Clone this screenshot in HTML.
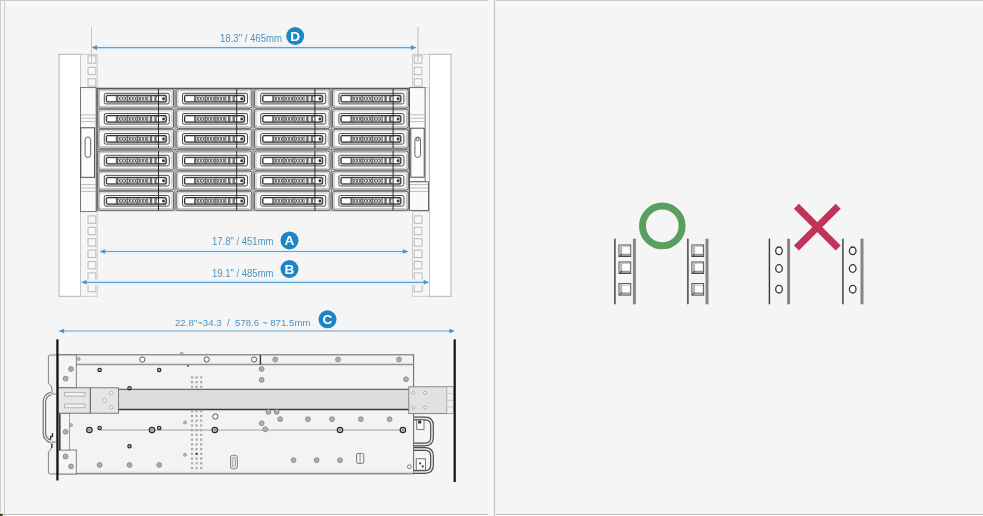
<!DOCTYPE html>
<html><head><meta charset="utf-8"><title>Rack dimensions</title>
<style>
html,body{margin:0;padding:0;background:#f5f5f5;}
body{width:983px;height:516px;overflow:hidden;font-family:"Liberation Sans",sans-serif;}
svg{display:block;font-family:"Liberation Sans",sans-serif;filter:blur(0.45px);}
</style></head><body>
<svg width="983" height="516" viewBox="0 0 983 516">
<defs>
<g id="tray">
<rect x="0" y="0" width="75.6" height="19" rx="2.2" fill="#fbfbfb" stroke="#505050" stroke-width="0.95"/>
<rect x="1.6" y="1.6" width="72.4" height="15.8" rx="1.6" fill="none" stroke="#9a9a9a" stroke-width="0.6"/>
<rect x="6.3" y="4.3" width="65" height="10.6" rx="1.6" fill="#f3f3f3" stroke="#3c3c3c" stroke-width="0.9"/>
<rect x="8.3" y="6.3" width="60" height="6.7" rx="1" fill="#6e6e6e" stroke="#2e2e2e" stroke-width="1"/>
<rect x="9.2" y="7.2" width="8.6" height="4.9" fill="#ffffff"/>
<rect x="20.0" y="7.2" width="8.8" height="4.9" fill="#efefef"/>
<path d="M20.60 7.6 l2 4.1 m0 -4.1 l-2 4.1" stroke="#3c3c3c" stroke-width="0.8" fill="none"/>
<path d="M23.50 7.6 l2 4.1 m0 -4.1 l-2 4.1" stroke="#3c3c3c" stroke-width="0.8" fill="none"/>
<path d="M26.40 7.6 l2 4.1 m0 -4.1 l-2 4.1" stroke="#3c3c3c" stroke-width="0.8" fill="none"/>
<rect x="30.2" y="7.2" width="8.8" height="4.9" fill="#efefef"/>
<path d="M30.80 7.6 l2 4.1 m0 -4.1 l-2 4.1" stroke="#3c3c3c" stroke-width="0.8" fill="none"/>
<path d="M33.70 7.6 l2 4.1 m0 -4.1 l-2 4.1" stroke="#3c3c3c" stroke-width="0.8" fill="none"/>
<path d="M36.60 7.6 l2 4.1 m0 -4.1 l-2 4.1" stroke="#3c3c3c" stroke-width="0.8" fill="none"/>
<rect x="40.4" y="7.2" width="8.8" height="4.9" fill="#efefef"/>
<path d="M41.00 7.6 l2 4.1 m0 -4.1 l-2 4.1" stroke="#3c3c3c" stroke-width="0.8" fill="none"/>
<path d="M43.90 7.6 l2 4.1 m0 -4.1 l-2 4.1" stroke="#3c3c3c" stroke-width="0.8" fill="none"/>
<path d="M46.80 7.6 l2 4.1 m0 -4.1 l-2 4.1" stroke="#3c3c3c" stroke-width="0.8" fill="none"/>
<rect x="50.2" y="7.2" width="1.6" height="4.9" fill="#f0f0f0"/>
<rect x="54.2" y="7.2" width="2.2" height="4.9" fill="#f0f0f0"/>
<rect x="58.6" y="7.2" width="8.8" height="4.9" rx="1.6" fill="#ffffff"/>
<rect x="64.2" y="8.2" width="2.6" height="3" rx="1" fill="#3a3a3a"/>
<circle cx="0.8" cy="1.4" r="0.9" fill="#fff" stroke="#555" stroke-width="0.5"/>
<circle cx="0.8" cy="17.6" r="0.9" fill="#fff" stroke="#555" stroke-width="0.5"/>
<circle cx="73.4" cy="7.6" r="0.45" fill="#999"/>
<circle cx="73.4" cy="9.6" r="0.45" fill="#999"/>
<circle cx="73.4" cy="11.6" r="0.45" fill="#999"/>
</g>
<g id="hole"><rect x="0" y="0" width="7.8" height="7.4" fill="#f7f7f7" stroke="#b9b9b9" stroke-width="1"/></g>
<g id="scr"><circle r="2.4" fill="#b9b9b9" stroke="#808080" stroke-width="0.9"/><circle r="0.9" fill="#a2a2a2"/></g>
<g id="scrs"><circle r="1.6" fill="#b4b4b4" stroke="#8a8a8a" stroke-width="0.6"/></g>
<g id="ringd"><circle r="1.7" fill="#bbb" stroke="#222" stroke-width="1.1"/></g>
<g id="ring2"><circle r="2.7" fill="#d0d0d0" stroke="#2a2a2a" stroke-width="1.2"/><circle r="0.9" fill="#777"/></g>
<g id="ringw"><circle r="2.6" fill="#fff" stroke="#555" stroke-width="1"/></g>
<g id="sqh"><rect x="0" y="0" width="11.7" height="11.5" fill="#fdfdfd" stroke="#4a4a4a" stroke-width="1"/><rect x="0.5" y="0.5" width="2.4" height="10.5" fill="#b8b8b8"/><rect x="0.5" y="9.0" width="10.7" height="2" fill="#9a9a9a"/><path d="M0.3 11.3 L3 9" stroke="#333" stroke-width="1"/><rect x="2.9" y="1.6" width="8.2" height="7.4" fill="#fefefe" stroke="#999" stroke-width="0.5"/></g>
<g id="rdh"><ellipse rx="3.3" ry="3.8" fill="#fdfdfd" stroke="#333" stroke-width="1.3"/></g>
</defs>
<rect x="0.00" y="0.00" width="983.00" height="516.00" rx="0" fill="#f5f5f5" stroke="none" stroke-width="1" />
<rect x="0.00" y="0.00" width="983.00" height="5.50" rx="0" fill="#fafafa" stroke="none" stroke-width="1" />
<rect x="0.00" y="0.00" width="6.00" height="516.00" rx="0" fill="#f9f9f9" stroke="none" stroke-width="1" />
<rect x="0.00" y="512.50" width="983.00" height="3.50" rx="0" fill="#fbfbfb" stroke="none" stroke-width="1" />
<line x1="0.00" y1="0.50" x2="983.00" y2="0.50" stroke="#c9c9c9" stroke-width="1.2" />
<line x1="0.50" y1="0.00" x2="0.50" y2="516.00" stroke="#cfcfcf" stroke-width="1.4" />
<line x1="4.50" y1="0.00" x2="4.50" y2="516.00" stroke="#cdcdcd" stroke-width="1.2" />
<line x1="0.00" y1="514.30" x2="983.00" y2="514.30" stroke="#c4c4c4" stroke-width="1.3" />
<rect x="0.00" y="513.60" width="2.60" height="2.40" rx="0" fill="#3a3a2a" stroke="none" stroke-width="1" />
<rect x="0.00" y="511.50" width="3.00" height="2.00" rx="0" fill="#f1f3d8" stroke="none" stroke-width="1" />
<rect x="488.50" y="0.00" width="7.50" height="516.00" rx="0" fill="#f7f7f7" stroke="none" stroke-width="1" />
<line x1="494.50" y1="0.00" x2="494.50" y2="516.00" stroke="#c6c6c6" stroke-width="1.3" />
<rect x="59.00" y="54.30" width="21.50" height="242.00" rx="0" fill="#ffffff" stroke="#b3b3b3" stroke-width="1" />
<rect x="429.50" y="54.30" width="21.50" height="242.00" rx="0" fill="#ffffff" stroke="#b3b3b3" stroke-width="1" />
<rect x="80.50" y="54.30" width="16.70" height="33.50" rx="0" fill="#f6f6f6" stroke="#c4c4c4" stroke-width="0.8" />
<rect x="80.50" y="211.60" width="16.70" height="84.70" rx="0" fill="#f6f6f6" stroke="#c4c4c4" stroke-width="0.8" />
<rect x="412.60" y="54.30" width="16.90" height="33.50" rx="0" fill="#f6f6f6" stroke="#c4c4c4" stroke-width="0.8" />
<rect x="412.60" y="211.60" width="16.90" height="84.70" rx="0" fill="#f6f6f6" stroke="#c4c4c4" stroke-width="0.8" />
<use href="#hole" x="88" y="55.8"/>
<use href="#hole" x="414.2" y="55.8"/>
<use href="#hole" x="88" y="67.3"/>
<use href="#hole" x="414.2" y="67.3"/>
<use href="#hole" x="88" y="78.8"/>
<use href="#hole" x="414.2" y="78.8"/>
<use href="#hole" x="88" y="215.90"/>
<use href="#hole" x="414.2" y="215.90"/>
<use href="#hole" x="88" y="227.30"/>
<use href="#hole" x="414.2" y="227.30"/>
<use href="#hole" x="88" y="238.70"/>
<use href="#hole" x="414.2" y="238.70"/>
<use href="#hole" x="88" y="250.10"/>
<use href="#hole" x="414.2" y="250.10"/>
<use href="#hole" x="88" y="261.50"/>
<use href="#hole" x="414.2" y="261.50"/>
<use href="#hole" x="88" y="272.90"/>
<use href="#hole" x="414.2" y="272.90"/>
<use href="#hole" x="88" y="284.30"/>
<use href="#hole" x="414.2" y="284.30"/>
<rect x="80.50" y="87.60" width="15.60" height="124.00" rx="0" fill="#fafafa" stroke="#6a6a6a" stroke-width="0.9" />
<rect x="80.80" y="127.80" width="13.80" height="49.50" rx="0" fill="#fcfcfc" stroke="#3f3f3f" stroke-width="0.9" />
<rect x="85.10" y="137.00" width="5.60" height="20.50" rx="2.8" fill="#ffffff" stroke="#555" stroke-width="0.9" />
<line x1="81.00" y1="114.80" x2="95.60" y2="114.80" stroke="#a8a8a8" stroke-width="0.7" />
<line x1="81.00" y1="118.20" x2="95.60" y2="118.20" stroke="#a8a8a8" stroke-width="0.7" />
<line x1="81.00" y1="121.60" x2="95.60" y2="121.60" stroke="#a8a8a8" stroke-width="0.7" />
<line x1="81.00" y1="184.60" x2="95.60" y2="184.60" stroke="#a0a0a0" stroke-width="0.7" />
<line x1="81.00" y1="188.00" x2="95.60" y2="188.00" stroke="#a0a0a0" stroke-width="0.7" />
<line x1="81.00" y1="191.40" x2="95.60" y2="191.40" stroke="#a0a0a0" stroke-width="0.7" />
<rect x="409.50" y="87.60" width="15.60" height="94.20" rx="0" fill="#fafafa" stroke="#6a6a6a" stroke-width="0.9" />
<rect x="409.50" y="181.80" width="19.00" height="28.60" rx="0" fill="#fafafa" stroke="#5a5a5a" stroke-width="0.9" />
<rect x="410.80" y="128.20" width="13.40" height="49.00" rx="0" fill="#fcfcfc" stroke="#3f3f3f" stroke-width="0.9" />
<rect x="414.90" y="137.00" width="5.60" height="20.50" rx="2.8" fill="#ffffff" stroke="#555" stroke-width="0.9" />
<circle cx="417.70" cy="139.40" r="1.5" fill="#fff" stroke="#444" stroke-width="0.8"/>
<line x1="410.00" y1="114.80" x2="424.60" y2="114.80" stroke="#a8a8a8" stroke-width="0.7" />
<line x1="410.00" y1="118.20" x2="424.60" y2="118.20" stroke="#a8a8a8" stroke-width="0.7" />
<line x1="410.00" y1="121.60" x2="424.60" y2="121.60" stroke="#a8a8a8" stroke-width="0.7" />
<line x1="410.00" y1="184.60" x2="428.00" y2="184.60" stroke="#a0a0a0" stroke-width="0.7" />
<line x1="410.00" y1="188.00" x2="428.00" y2="188.00" stroke="#a0a0a0" stroke-width="0.7" />
<line x1="410.00" y1="191.40" x2="428.00" y2="191.40" stroke="#a0a0a0" stroke-width="0.7" />
<rect x="97.00" y="88.30" width="312.30" height="122.20" rx="0" fill="#d2d2d2" stroke="#4a4a4a" stroke-width="1.1" />
<line x1="97.00" y1="210.70" x2="409.30" y2="210.70" stroke="#a9b88f" stroke-width="1.2" />
<use href="#tray" x="98.0" y="89.0"/>
<use href="#tray" x="98.0" y="109.2"/>
<use href="#tray" x="98.0" y="129.2"/>
<use href="#tray" x="98.0" y="151.0"/>
<use href="#tray" x="98.0" y="171.1"/>
<use href="#tray" x="98.0" y="191.2"/>
<line x1="158.50" y1="89.00" x2="158.50" y2="148.30" stroke="#2a2a2a" stroke-width="1.0" />
<line x1="158.50" y1="151.00" x2="158.50" y2="210.20" stroke="#2a2a2a" stroke-width="1.0" />
<use href="#tray" x="176.2" y="89.0"/>
<use href="#tray" x="176.2" y="109.2"/>
<use href="#tray" x="176.2" y="129.2"/>
<use href="#tray" x="176.2" y="151.0"/>
<use href="#tray" x="176.2" y="171.1"/>
<use href="#tray" x="176.2" y="191.2"/>
<line x1="236.70" y1="89.00" x2="236.70" y2="148.30" stroke="#2a2a2a" stroke-width="1.0" />
<line x1="236.70" y1="151.00" x2="236.70" y2="210.20" stroke="#2a2a2a" stroke-width="1.0" />
<use href="#tray" x="254.4" y="89.0"/>
<use href="#tray" x="254.4" y="109.2"/>
<use href="#tray" x="254.4" y="129.2"/>
<use href="#tray" x="254.4" y="151.0"/>
<use href="#tray" x="254.4" y="171.1"/>
<use href="#tray" x="254.4" y="191.2"/>
<line x1="314.90" y1="89.00" x2="314.90" y2="148.30" stroke="#2a2a2a" stroke-width="1.0" />
<line x1="314.90" y1="151.00" x2="314.90" y2="210.20" stroke="#2a2a2a" stroke-width="1.0" />
<use href="#tray" x="332.6" y="89.0"/>
<use href="#tray" x="332.6" y="109.2"/>
<use href="#tray" x="332.6" y="129.2"/>
<use href="#tray" x="332.6" y="151.0"/>
<use href="#tray" x="332.6" y="171.1"/>
<use href="#tray" x="332.6" y="191.2"/>
<line x1="393.10" y1="89.00" x2="393.10" y2="148.30" stroke="#2a2a2a" stroke-width="1.0" />
<line x1="393.10" y1="151.00" x2="393.10" y2="210.20" stroke="#2a2a2a" stroke-width="1.0" />
<line x1="175.00" y1="89.00" x2="175.00" y2="210.00" stroke="#7a7a7a" stroke-width="0.8" />
<line x1="253.20" y1="89.00" x2="253.20" y2="210.00" stroke="#7a7a7a" stroke-width="0.8" />
<line x1="331.40" y1="89.00" x2="331.40" y2="210.00" stroke="#7a7a7a" stroke-width="0.8" />
<line x1="97.50" y1="149.60" x2="409.00" y2="149.60" stroke="#6a6a6a" stroke-width="0.8" />
<rect x="93.00" y="44.60" width="323.00" height="6.00" rx="0" fill="#eaf3fa" stroke="none" stroke-width="1" />
<rect x="101.00" y="248.50" width="306.00" height="6.00" rx="0" fill="#eaf3fa" stroke="none" stroke-width="1" />
<rect x="83.00" y="279.30" width="344.00" height="6.00" rx="0" fill="#eaf3fa" stroke="none" stroke-width="1" />
<line x1="91.50" y1="27.00" x2="91.50" y2="63.00" stroke="#c4c4c4" stroke-width="1" />
<line x1="418.00" y1="27.00" x2="418.00" y2="62.00" stroke="#bdbdbd" stroke-width="1" />
<line x1="94.50" y1="47.60" x2="413.50" y2="47.60" stroke="#62a1cd" stroke-width="1.2" />
<path d="M91.50 47.60 l5.6 -2.3 v4.6 z" fill="#4d94c4"/>
<path d="M416.50 47.60 l-5.6 -2.3 v4.6 z" fill="#4d94c4"/>
<line x1="102.60" y1="251.50" x2="405.50" y2="251.50" stroke="#62a1cd" stroke-width="1.2" />
<path d="M99.60 251.50 l5.6 -2.3 v4.6 z" fill="#4d94c4"/>
<path d="M408.50 251.50 l-5.6 -2.3 v4.6 z" fill="#4d94c4"/>
<line x1="84.00" y1="282.30" x2="426.30" y2="282.30" stroke="#62a1cd" stroke-width="1.2" />
<path d="M81.00 282.30 l5.6 -2.3 v4.6 z" fill="#4d94c4"/>
<path d="M429.30 282.30 l-5.6 -2.3 v4.6 z" fill="#4d94c4"/>
<line x1="61.50" y1="331.00" x2="452.00" y2="331.00" stroke="#62a1cd" stroke-width="1.0" />
<path d="M58.50 331.00 l5.6 -2.3 v4.6 z" fill="#4d94c4"/>
<path d="M455.00 331.00 l-5.6 -2.3 v4.6 z" fill="#4d94c4"/>
<text xml:space="preserve" x="220" y="42.0" font-size="10.4" fill="#4d94c4" textLength="62" lengthAdjust="spacingAndGlyphs">18.3" / 465mm</text>
<text xml:space="preserve" x="212" y="244.5" font-size="10.4" fill="#4d94c4" textLength="61.5" lengthAdjust="spacingAndGlyphs">17.8" / 451mm</text>
<text xml:space="preserve" x="212" y="276.6" font-size="10.4" fill="#4d94c4" textLength="61.5" lengthAdjust="spacingAndGlyphs">19.1" / 485mm</text>
<text xml:space="preserve" x="175" y="326" font-size="9.9" fill="#4d94c4" textLength="135.5" lengthAdjust="spacingAndGlyphs">22.8"~34.3  /  578.6 ~ 871.5mm</text>
<circle cx="295.20" cy="36.00" r="9" fill="#1b86c6" stroke="none" stroke-width="1"/>
<text x="295.2" y="40.9" font-size="13.6" font-weight="bold" fill="#ffffff" text-anchor="middle">D</text>
<circle cx="289.50" cy="240.40" r="9" fill="#1b86c6" stroke="none" stroke-width="1"/>
<text x="289.5" y="245.3" font-size="13.6" font-weight="bold" fill="#ffffff" text-anchor="middle">A</text>
<circle cx="289.50" cy="269.00" r="9" fill="#1b86c6" stroke="none" stroke-width="1"/>
<text x="289.5" y="273.9" font-size="13.6" font-weight="bold" fill="#ffffff" text-anchor="middle">B</text>
<circle cx="327.50" cy="319.30" r="9" fill="#1b86c6" stroke="none" stroke-width="1"/>
<text x="327.5" y="324.2" font-size="13.6" font-weight="bold" fill="#ffffff" text-anchor="middle">C</text>
<rect x="58.00" y="354.80" width="355.60" height="119.00" rx="0" fill="#f3f3f3" stroke="#6f6f6f" stroke-width="1.1" />
<line x1="58.00" y1="364.70" x2="413.60" y2="364.70" stroke="#7a7a7a" stroke-width="1" />
<line x1="58.00" y1="363.30" x2="413.60" y2="363.30" stroke="#c2c2c2" stroke-width="0.6" />
<line x1="260.40" y1="355.00" x2="260.40" y2="364.70" stroke="#333" stroke-width="1.4" />
<line x1="58.00" y1="472.30" x2="413.60" y2="472.30" stroke="#c2c2c2" stroke-width="0.6" />
<path d="M58 355 H50.5 Q48.4 355 48.4 357 V383 Q52 386 52 389 V394 H58 Z" fill="#f1f1f1" stroke="#777" stroke-width="0.9"/>
<path d="M58 474 H50.5 Q48.4 474 48.4 472 V452 Q52 449 52 446 V442 H58 Z" fill="#f1f1f1" stroke="#777" stroke-width="0.9"/>
<rect x="58.00" y="355.00" width="18.30" height="32.60" rx="0" fill="#f5f5f5" stroke="#777" stroke-width="0.9" />
<rect x="58.00" y="450.00" width="18.30" height="24.00" rx="0" fill="#f5f5f5" stroke="#777" stroke-width="0.9" />
<rect x="58.00" y="413.50" width="11.50" height="36.50" rx="0" fill="#f5f5f5" stroke="#888" stroke-width="0.8" />
<line x1="59.80" y1="413.50" x2="59.80" y2="450.00" stroke="#222" stroke-width="1.4" />
<path d="M51 393.5 Q44.4 395.5 44.4 402 V433 Q44.4 439.5 51 441.5" fill="none" stroke="#6a6a6a" stroke-width="3.6"/>
<path d="M51 393.5 Q44.4 395.5 44.4 402 V433 Q44.4 439.5 51 441.5" fill="none" stroke="#ededed" stroke-width="1.4"/>
<path d="M52.5 433 v3.5 h-2 v3 M51.8 444 v4" fill="none" stroke="#333" stroke-width="1.3"/>
<line x1="99.00" y1="430.00" x2="403.00" y2="430.00" stroke="#8d8d8d" stroke-width="0.8" />
<rect x="118.50" y="389.60" width="290.50" height="19.80" rx="0" fill="#dcdcdc" stroke="none" stroke-width="1" />
<line x1="118.50" y1="389.40" x2="409.00" y2="389.40" stroke="#6a6a6a" stroke-width="1.1" />
<line x1="118.50" y1="409.50" x2="409.00" y2="409.50" stroke="#3a3a3a" stroke-width="1.3" />
<rect x="58.00" y="387.80" width="60.50" height="25.40" rx="0" fill="#e6e6e6" stroke="#6e6e6e" stroke-width="0.9" />
<line x1="90.30" y1="387.80" x2="90.30" y2="413.20" stroke="#555" stroke-width="1" />
<rect x="64.70" y="392.30" width="20.30" height="3.80" rx="0" fill="#f2f2f2" stroke="#9a9a9a" stroke-width="0.7" />
<rect x="64.70" y="404.00" width="20.30" height="3.80" rx="0" fill="#f2f2f2" stroke="#9a9a9a" stroke-width="0.7" />
<circle cx="111.20" cy="393.00" r="1.9" fill="#f4f4f4" stroke="#a0a0a0" stroke-width="0.7"/>
<circle cx="104.50" cy="400.40" r="1.9" fill="#f4f4f4" stroke="#a0a0a0" stroke-width="0.7"/>
<circle cx="111.20" cy="407.30" r="1.9" fill="#f4f4f4" stroke="#a0a0a0" stroke-width="0.7"/>
<rect x="408.80" y="386.80" width="45.00" height="26.80" rx="0" fill="#e2e2e2" stroke="#7a7a7a" stroke-width="0.9" />
<rect x="446.80" y="386.80" width="7.00" height="26.80" rx="0" fill="#efefef" stroke="#9a9a9a" stroke-width="0.7" />
<line x1="446.80" y1="393.50" x2="453.80" y2="393.50" stroke="#b0b0b0" stroke-width="0.6" />
<line x1="446.80" y1="400.20" x2="453.80" y2="400.20" stroke="#b0b0b0" stroke-width="0.6" />
<line x1="446.80" y1="406.90" x2="453.80" y2="406.90" stroke="#b0b0b0" stroke-width="0.6" />
<circle cx="413.40" cy="392.80" r="1.5" fill="#f2f2f2" stroke="#9a9a9a" stroke-width="0.7"/>
<circle cx="425.00" cy="392.80" r="1.5" fill="#f2f2f2" stroke="#9a9a9a" stroke-width="0.7"/>
<circle cx="413.40" cy="407.60" r="1.5" fill="#f2f2f2" stroke="#9a9a9a" stroke-width="0.7"/>
<circle cx="425.00" cy="407.60" r="1.5" fill="#f2f2f2" stroke="#9a9a9a" stroke-width="0.7"/>
<rect x="190.90" y="376.30" width="2.20" height="2.20" rx="0" fill="#a9a9a9" stroke="none" stroke-width="1" />
<rect x="190.90" y="381.00" width="2.20" height="2.20" rx="0" fill="#a9a9a9" stroke="none" stroke-width="1" />
<rect x="190.90" y="385.70" width="2.20" height="2.20" rx="0" fill="#a9a9a9" stroke="none" stroke-width="1" />
<rect x="190.90" y="410.10" width="2.20" height="2.20" rx="0" fill="#a9a9a9" stroke="none" stroke-width="1" />
<rect x="190.90" y="414.84" width="2.20" height="2.20" rx="0" fill="#a9a9a9" stroke="none" stroke-width="1" />
<rect x="190.90" y="419.58" width="2.20" height="2.20" rx="0" fill="#a9a9a9" stroke="none" stroke-width="1" />
<rect x="190.90" y="424.32" width="2.20" height="2.20" rx="0" fill="#a9a9a9" stroke="none" stroke-width="1" />
<rect x="190.90" y="429.06" width="2.20" height="2.20" rx="0" fill="#a9a9a9" stroke="none" stroke-width="1" />
<rect x="190.90" y="433.80" width="2.20" height="2.20" rx="0" fill="#a9a9a9" stroke="none" stroke-width="1" />
<rect x="190.90" y="438.54" width="2.20" height="2.20" rx="0" fill="#a9a9a9" stroke="none" stroke-width="1" />
<rect x="190.90" y="443.28" width="2.20" height="2.20" rx="0" fill="#a9a9a9" stroke="none" stroke-width="1" />
<rect x="190.90" y="448.02" width="2.20" height="2.20" rx="0" fill="#a9a9a9" stroke="none" stroke-width="1" />
<rect x="190.90" y="452.76" width="2.20" height="2.20" rx="0" fill="#a9a9a9" stroke="none" stroke-width="1" />
<rect x="190.90" y="457.50" width="2.20" height="2.20" rx="0" fill="#a9a9a9" stroke="none" stroke-width="1" />
<rect x="190.90" y="462.24" width="2.20" height="2.20" rx="0" fill="#a9a9a9" stroke="none" stroke-width="1" />
<rect x="190.90" y="466.98" width="2.20" height="2.20" rx="0" fill="#a9a9a9" stroke="none" stroke-width="1" />
<rect x="195.50" y="376.30" width="2.20" height="2.20" rx="0" fill="#a9a9a9" stroke="none" stroke-width="1" />
<rect x="195.50" y="381.00" width="2.20" height="2.20" rx="0" fill="#a9a9a9" stroke="none" stroke-width="1" />
<rect x="195.50" y="385.70" width="2.20" height="2.20" rx="0" fill="#a9a9a9" stroke="none" stroke-width="1" />
<rect x="195.50" y="410.10" width="2.20" height="2.20" rx="0" fill="#a9a9a9" stroke="none" stroke-width="1" />
<rect x="195.50" y="414.84" width="2.20" height="2.20" rx="0" fill="#a9a9a9" stroke="none" stroke-width="1" />
<rect x="195.50" y="419.58" width="2.20" height="2.20" rx="0" fill="#a9a9a9" stroke="none" stroke-width="1" />
<rect x="195.50" y="424.32" width="2.20" height="2.20" rx="0" fill="#a9a9a9" stroke="none" stroke-width="1" />
<rect x="195.50" y="429.06" width="2.20" height="2.20" rx="0" fill="#a9a9a9" stroke="none" stroke-width="1" />
<rect x="195.50" y="433.80" width="2.20" height="2.20" rx="0" fill="#a9a9a9" stroke="none" stroke-width="1" />
<rect x="195.50" y="438.54" width="2.20" height="2.20" rx="0" fill="#a9a9a9" stroke="none" stroke-width="1" />
<rect x="195.50" y="443.28" width="2.20" height="2.20" rx="0" fill="#a9a9a9" stroke="none" stroke-width="1" />
<rect x="195.50" y="448.02" width="2.20" height="2.20" rx="0" fill="#a9a9a9" stroke="none" stroke-width="1" />
<rect x="195.50" y="452.76" width="2.20" height="2.20" rx="0" fill="#444" stroke="none" stroke-width="1" />
<rect x="195.50" y="457.50" width="2.20" height="2.20" rx="0" fill="#a9a9a9" stroke="none" stroke-width="1" />
<rect x="195.50" y="462.24" width="2.20" height="2.20" rx="0" fill="#a9a9a9" stroke="none" stroke-width="1" />
<rect x="195.50" y="466.98" width="2.20" height="2.20" rx="0" fill="#a9a9a9" stroke="none" stroke-width="1" />
<rect x="200.10" y="376.30" width="2.20" height="2.20" rx="0" fill="#a9a9a9" stroke="none" stroke-width="1" />
<rect x="200.10" y="381.00" width="2.20" height="2.20" rx="0" fill="#a9a9a9" stroke="none" stroke-width="1" />
<rect x="200.10" y="385.70" width="2.20" height="2.20" rx="0" fill="#a9a9a9" stroke="none" stroke-width="1" />
<rect x="200.10" y="410.10" width="2.20" height="2.20" rx="0" fill="#a9a9a9" stroke="none" stroke-width="1" />
<rect x="200.10" y="414.84" width="2.20" height="2.20" rx="0" fill="#a9a9a9" stroke="none" stroke-width="1" />
<rect x="200.10" y="419.58" width="2.20" height="2.20" rx="0" fill="#a9a9a9" stroke="none" stroke-width="1" />
<rect x="200.10" y="424.32" width="2.20" height="2.20" rx="0" fill="#a9a9a9" stroke="none" stroke-width="1" />
<rect x="200.10" y="429.06" width="2.20" height="2.20" rx="0" fill="#a9a9a9" stroke="none" stroke-width="1" />
<rect x="200.10" y="433.80" width="2.20" height="2.20" rx="0" fill="#a9a9a9" stroke="none" stroke-width="1" />
<rect x="200.10" y="438.54" width="2.20" height="2.20" rx="0" fill="#a9a9a9" stroke="none" stroke-width="1" />
<rect x="200.10" y="443.28" width="2.20" height="2.20" rx="0" fill="#a9a9a9" stroke="none" stroke-width="1" />
<rect x="200.10" y="448.02" width="2.20" height="2.20" rx="0" fill="#a9a9a9" stroke="none" stroke-width="1" />
<rect x="200.10" y="452.76" width="2.20" height="2.20" rx="0" fill="#a9a9a9" stroke="none" stroke-width="1" />
<rect x="200.10" y="457.50" width="2.20" height="2.20" rx="0" fill="#a9a9a9" stroke="none" stroke-width="1" />
<rect x="200.10" y="462.24" width="2.20" height="2.20" rx="0" fill="#a9a9a9" stroke="none" stroke-width="1" />
<rect x="200.10" y="466.98" width="2.20" height="2.20" rx="0" fill="#a9a9a9" stroke="none" stroke-width="1" />
<use href="#scr" x="71" y="369"/>
<use href="#scr" x="65.6" y="378.6"/>
<use href="#scr" x="65.6" y="431.8"/>
<use href="#scr" x="65.6" y="456.5"/>
<use href="#scr" x="71" y="466.4"/>
<use href="#scr" x="99.6" y="465"/>
<use href="#scr" x="129.5" y="465"/>
<use href="#scr" x="159.2" y="465"/>
<use href="#scr" x="261.7" y="369"/>
<use href="#scr" x="261.7" y="379.9"/>
<use href="#scr" x="268.5" y="411.9"/>
<use href="#scr" x="276.7" y="411.9"/>
<use href="#scr" x="280.2" y="419.2"/>
<use href="#scr" x="261.7" y="423.3"/>
<use href="#scr" x="265.3" y="429.3"/>
<use href="#scr" x="293.5" y="460.2"/>
<use href="#scr" x="316.6" y="460.2"/>
<use href="#scr" x="340" y="460.2"/>
<use href="#scr" x="307.9" y="419.2"/>
<use href="#scr" x="332" y="419.2"/>
<use href="#scr" x="360.8" y="419.2"/>
<use href="#scr" x="389.6" y="419.2"/>
<use href="#scr" x="406" y="379.3"/>
<use href="#scr" x="275.3" y="359.5"/>
<use href="#scr" x="338" y="359.5"/>
<use href="#scr" x="399" y="359.5"/>
<use href="#scrs" x="78.7" y="359"/>
<use href="#scrs" x="71" y="425"/>
<use href="#scrs" x="181.7" y="353.8"/>
<use href="#scrs" x="185" y="422.5"/>
<use href="#scrs" x="185" y="454.8"/>
<use href="#ringd" x="99.6" y="369.9"/>
<use href="#ringd" x="159.2" y="369.9"/>
<use href="#ringd" x="129.5" y="388.2"/>
<use href="#ringd" x="99.6" y="428"/>
<use href="#ringd" x="159.2" y="428"/>
<use href="#ringd" x="129.5" y="446.3"/>
<circle cx="188.00" cy="365.90" r="1.1" fill="#666" stroke="none" stroke-width="1"/>
<use href="#ring2" x="89.4" y="430"/>
<use href="#ring2" x="152" y="430"/>
<use href="#ring2" x="214.8" y="430"/>
<use href="#ring2" x="340" y="430"/>
<use href="#ring2" x="402.9" y="430"/>
<use href="#ringw" x="142.3" y="359.5"/>
<use href="#ringw" x="206.7" y="359.5"/>
<use href="#ringw" x="254.1" y="359.5"/>
<use href="#ringw" x="215.3" y="416.5"/>
<circle cx="409.40" cy="466.70" r="1.9" fill="#fff" stroke="#555" stroke-width="0.8"/>
<rect x="230.50" y="455.30" width="6.80" height="13.60" rx="2" fill="#f0f0f0" stroke="#666" stroke-width="0.8" />
<rect x="232.30" y="457.30" width="3.20" height="9.60" rx="1" fill="#e0e0e0" stroke="#888" stroke-width="0.6" />
<rect x="356.50" y="453.40" width="7.30" height="10.00" rx="1.5" fill="#f0f0f0" stroke="#666" stroke-width="0.8" />
<line x1="360.10" y1="454.00" x2="360.10" y2="463.00" stroke="#777" stroke-width="0.7" />
<path d="M414 418.5 H425 Q432 418.5 432 425.5 V437.5 Q432 444.5 425 444.5 H414" fill="none" stroke="#4c4c4c" stroke-width="3.8"/>
<path d="M414 418.5 H425 Q432 418.5 432 425.5 V437.5 Q432 444.5 425 444.5 H414" fill="none" stroke="#ececec" stroke-width="1.5"/>
<path d="M414 449 H425 Q432 449 432 456 V465 Q432 472 425 472 H414" fill="none" stroke="#4c4c4c" stroke-width="3.8"/>
<path d="M414 449 H425 Q432 449 432 456 V465 Q432 472 425 472 H414" fill="none" stroke="#ececec" stroke-width="1.5"/>
<rect x="416.80" y="419.80" width="7.20" height="9.80" rx="0" fill="#fafafa" stroke="#555" stroke-width="0.8" />
<rect x="418.20" y="420.50" width="3.00" height="3.00" rx="0" fill="#333" stroke="none" stroke-width="1" />
<rect x="416.20" y="458.80" width="9.30" height="11.40" rx="0" fill="#fafafa" stroke="#555" stroke-width="0.8" />
<rect x="419.20" y="462.50" width="1.80" height="1.80" rx="0" fill="#222" stroke="none" stroke-width="1" />
<rect x="421.80" y="465.50" width="1.80" height="1.80" rx="0" fill="#222" stroke="none" stroke-width="1" />
<line x1="57.40" y1="339.40" x2="57.40" y2="480.50" stroke="#111" stroke-width="2.2" />
<line x1="454.70" y1="339.40" x2="454.70" y2="482.00" stroke="#111" stroke-width="2.2" />
<circle cx="662.30" cy="225.90" r="19.8" fill="none" stroke="#5a9f60" stroke-width="7.0"/>
<line x1="796.40" y1="206.20" x2="838.20" y2="248.00" stroke="#c0345a" stroke-width="7.0" />
<line x1="838.20" y1="206.20" x2="796.40" y2="248.00" stroke="#c0345a" stroke-width="7.0" />
<line x1="614.90" y1="238.70" x2="614.90" y2="304.30" stroke="#383838" stroke-width="1.4" />
<line x1="634.40" y1="238.70" x2="634.40" y2="304.30" stroke="#858585" stroke-width="3" />
<use href="#sqh" x="619" y="245"/>
<use href="#sqh" x="619" y="262"/>
<use href="#sqh" x="619" y="283.6"/>
<line x1="687.90" y1="238.70" x2="687.90" y2="304.30" stroke="#383838" stroke-width="1.4" />
<line x1="707.00" y1="238.70" x2="707.00" y2="304.30" stroke="#858585" stroke-width="3" />
<use href="#sqh" x="691.9" y="245"/>
<use href="#sqh" x="691.9" y="262"/>
<use href="#sqh" x="691.9" y="283.6"/>
<line x1="769.40" y1="238.70" x2="769.40" y2="304.30" stroke="#383838" stroke-width="1.4" />
<line x1="788.60" y1="238.70" x2="788.60" y2="304.30" stroke="#858585" stroke-width="3" />
<use href="#rdh" x="779" y="250.8"/>
<use href="#rdh" x="779" y="268.5"/>
<use href="#rdh" x="779" y="289.2"/>
<line x1="842.90" y1="238.70" x2="842.90" y2="304.30" stroke="#383838" stroke-width="1.4" />
<line x1="862.00" y1="238.70" x2="862.00" y2="304.30" stroke="#858585" stroke-width="3" />
<use href="#rdh" x="852.7" y="250.8"/>
<use href="#rdh" x="852.7" y="268.5"/>
<use href="#rdh" x="852.7" y="289.2"/>
</svg>
</body></html>
